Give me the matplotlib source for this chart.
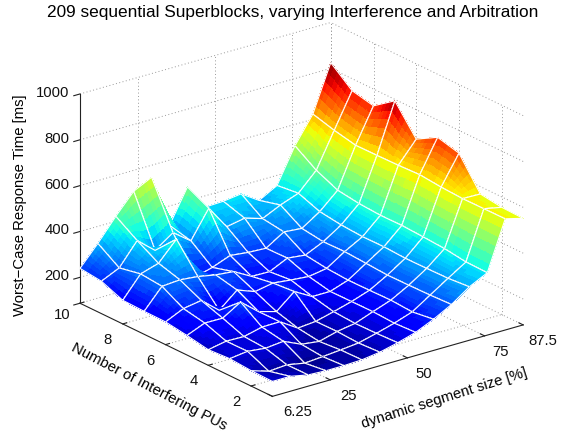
import numpy as np
import matplotlib
matplotlib.use('Agg')
import matplotlib.pyplot as plt
from mpl_toolkits.mplot3d import proj3d

plt.rcParams['font.family'] = ['Liberation Sans', 'DejaVu Sans']

seg_size = [6.25, 12.05, 17.86, 23.66, 29.46, 35.27, 41.07, 46.88,
            52.68, 58.48, 64.29, 70.09, 75.89, 81.70, 87.5]
num_pus = [1, 2, 3, 4, 5, 6, 7, 8, 9, 10]

# worst-case response time [ms], one row per number of interfering PUs
wcrt_1 = [152, 152, 136, 132, 132, 135, 146, 165, 188, 223, 265, 320, 359, 572, 552]
wcrt_2 = [154, 129, 135, 120, 126, 133, 141, 161, 183, 210, 261, 312, 361, 571, 555]
wcrt_3 = [161, 171, 162, 170, 135, 125, 146, 159, 188, 216, 259, 310, 374, 570, 568]
wcrt_4 = [155, 170, 168, 187, 188, 138, 145, 165, 187, 214, 258, 309, 380, 575, 701]
wcrt_5 = [172, 204, 203, 251, 187, 165, 230, 186, 186, 213, 264, 314, 385, 584, 725]
wcrt_6 = [186, 222, 235, 170, 236, 207, 222, 213, 206, 219, 270, 313, 384, 580, 672]
wcrt_7 = [187, 274, 280, 272, 257, 249, 206, 204, 241, 232, 268, 319, 390, 578, 794]
wcrt_8 = [190, 283, 307, 390, 200, 222, 252, 243, 239, 288, 281, 332, 403, 577, 727]
wcrt_9 = [228, 264, 361, 296, 351, 293, 413, 310, 325, 301, 338, 367, 445, 597, 748]
wcrt_10 = [239, 326, 422, 509, 548, 316, 461, 351, 354, 364, 313, 356, 507, 623, 825]

x_ticks = [6.25, 25, 50, 75, 87.5]
x_labels = ['6.25', '25', '50', '75', '87.5']
y_ticks = [2, 4, 6, 8, 10]
y_labels = ['2', '4', '6', '8', '']
z_ticks = [87, 200, 400, 600, 800, 1000]
z_labels = ['10', '200', '400', '600', '800', '1000']

X = np.array(seg_size)
Y = np.array(num_pus)
Z = np.array([wcrt_1, wcrt_2, wcrt_3, wcrt_4, wcrt_5,
              wcrt_6, wcrt_7, wcrt_8, wcrt_9, wcrt_10], dtype=float)
xmin, xmax = X[0], X[-1]
ymin, ymax = Y[0], Y[-1]
zmin, zmax = z_ticks[0], z_ticks[-1]

W, H = 570, 435
S = 486
fig = plt.figure(figsize=(W / 100, H / 100), dpi=100)
ax = fig.add_axes([52 / W, -25 / H, S / W, S / H], projection='3d',
                  computed_zorder=False)
ax.set_proj_type('ortho')
ax.view_init(elev=21.8, azim=-127.5)
ax.set_box_aspect((1, 1, 0.713))
ax.set_xlim(xmin, xmax)
ax.set_ylim(ymin, ymax)
ax.set_zlim(zmin, zmax)
ax.set_axis_off()

# dotted grid on the two back walls and the floor
grid = dict(color='#999999', lw=0.7, ls=(0, (1, 2.5)), zorder=1)
for z in z_ticks[1:]:
    ax.plot([xmin, xmax], [ymax, ymax], [z, z], **grid)
    ax.plot([xmax, xmax], [ymin, ymax], [z, z], **grid)
for x in x_ticks[1:]:
    ax.plot([x, x], [ymax, ymax], [zmin, zmax], **grid)
    ax.plot([x, x], [ymin, ymax], [zmin, zmin], **grid)
for y in y_ticks:
    ax.plot([xmax, xmax], [y, y], [zmin, zmax], **grid)
    ax.plot([xmin, xmax], [y, y], [zmin, zmin], **grid)

# axis lines and tick marks
axis = dict(color='#222222', lw=0.8, zorder=2)
ax.plot([xmin, xmin], [ymax, ymax], [zmin, zmax], **axis)
ax.plot([xmin, xmax], [ymin, ymin], [zmin, zmin], **axis)
ax.plot([xmin, xmin], [ymin, ymax], [zmin, zmin], **axis)
for z in z_ticks:
    ax.plot([xmin - 2, xmin], [ymax, ymax], [z, z], **axis)
for x in x_ticks:
    ax.plot([x, x], [ymin, ymin + 0.2], [zmin, zmin], **axis)
for y in y_ticks:
    ax.plot([xmin, xmin + 1.3], [y, y], [zmin, zmin], **axis)

# surface, painted cell by cell from back to front
cmap = plt.get_cmap('jet', 64)
vmin, vmax = 105, Z.max()
order = 10
t = np.linspace(0, 1, 7)
for i in range(len(X) - 2, -1, -1):
    for j in range(len(Y) - 2, -1, -1):
        u, v = np.meshgrid(t, t)
        xx = X[i] + (X[i + 1] - X[i]) * u
        yy = Y[j] + (Y[j + 1] - Y[j]) * v
        zz = (Z[j, i] * (1 - u) * (1 - v) + Z[j, i + 1] * u * (1 - v)
              + Z[j + 1, i] * (1 - u) * v + Z[j + 1, i + 1] * u * v)
        ax.plot_surface(xx, yy, zz, cmap=cmap, vmin=vmin, vmax=vmax,
                        linewidth=0, antialiased=False, shade=False,
                        zorder=order)
        ax.plot([X[i], X[i + 1], X[i + 1], X[i], X[i]],
                [Y[j], Y[j], Y[j + 1], Y[j + 1], Y[j]],
                [Z[j, i], Z[j, i + 1], Z[j + 1, i + 1], Z[j + 1, i], Z[j, i]],
                color='white', lw=0.85, zorder=order + 1)
        order += 2


def tick_text(x, y, z, label, dx, dy):
    px, py, _ = proj3d.proj_transform(x, y, z, ax.get_proj())
    ax.annotate(label, xy=(px, py), xytext=(dx, dy), textcoords='offset pixels',
                ha='center', va='center', fontsize=10.7, color='#111111',
                annotation_clip=False, zorder=5000)


for z, label in zip(z_ticks, z_labels):
    if label == '10':
        tick_text(xmin, ymax, z, label, -18, -11)
    else:
        tick_text(xmin, ymax, z, label, -10 - 4.3 * len(label), 2)
x_shift = {'6.25': 25, '25': 18, '50': 16, '75': 16, '87.5': 20}
for x, label in zip(x_ticks, x_labels):
    tick_text(x, ymin, zmin, label, x_shift[label], -15)
for y, label in zip(y_ticks, y_labels):
    tick_text(xmin, y, zmin, label, -15, -15)

fig.text(293 / W, 1 - 13 / H, '209 sequential Superblocks, varying Interference and Arbitration',
         ha='center', va='center', fontsize=12.4)
fig.text(149 / W, 1 - 387 / H, 'Number of Interfering PUs', rotation=-27.5,
         ha='center', va='center', fontsize=10.7, rotation_mode='anchor')
fig.text(444 / W, 1 - 398 / H, 'dynamic segment size [%]', rotation=17.5,
         ha='center', va='center', fontsize=10.7, rotation_mode='anchor')
fig.text(20 / W, 1 - 205 / H, 'Worst\u2212Case Response Time [ms]', rotation=90,
         ha='center', va='center', fontsize=10.7)

fig.savefig('out.png', dpi=100)
